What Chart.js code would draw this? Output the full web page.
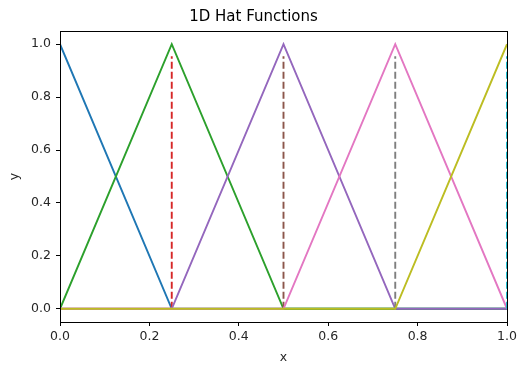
<!DOCTYPE html>
<html>
<head>
<meta charset="utf-8">
<script src="https://cdn.jsdelivr.net/npm/chart.js@4/dist/chart.umd.min.js"></script>
<style>
  html, body { margin: 0; padding: 0; background: #fff; }
  #wrap { width: 518px; height: 365px; }
</style>
</head>
<body>
<div id="wrap"><canvas id="hatChart"></canvas></div>
<script>
// mesh nodes and the nodal values of each hat function
const nodes = [0, 0.25, 0.5, 0.75, 1.0];
const hat0 = [1, 0, 0, 0, 0];
const hat1 = [0, 1, 0, 0, 0];
const hat2 = [0, 0, 1, 0, 0];
const hat3 = [0, 0, 0, 1, 0];
const hat4 = [0, 0, 0, 0, 1];
const hats = [hat0, hat1, hat2, hat3, hat4];

// dashed markers at each node
const markerBottom = 0;
const markerTop = 0.955;

const yTicks = [0.0, 0.2, 0.4, 0.6, 0.8, 1.0];
const xTicks = [0.0, 0.2, 0.4, 0.6, 0.8, 1.0];

const hatColors = ['#1f77b4', '#2ca02c', '#9467bd', '#e377c2', '#bcbd22'];
const markerColors = ['#ff7f0e', '#d62728', '#8c564b', '#7f7f7f', '#17becf'];

const FONT = 'DejaVu Sans';
const TEXT = '#262626';
const LW = 1.9;

// build datasets in plotting order: hat i, then its marker
const datasets = [];
hats.forEach((vals, i) => {
    datasets.push({
        data: nodes.map((x, k) => ({ x, y: vals[k] })),
        borderColor: hatColors[i],
        borderWidth: LW,
        pointRadius: 0,
        tension: 0
    });
    datasets.push({
        data: [{ x: nodes[i], y: markerBottom }, { x: nodes[i], y: markerTop }],
        borderColor: markerColors[i],
        borderWidth: LW,
        borderDash: [7, 3],
        pointRadius: 0
    });
});
// later datasets go on top, like the usual plotting order
datasets.forEach((d, i) => { d.order = datasets.length - i; });

const frame = {
    id: 'frame',
    afterDatasetsDraw(chart) {
        const { ctx, chartArea: a } = chart;
        ctx.save();
        ctx.strokeStyle = '#000';
        ctx.lineWidth = 1;
        ctx.strokeRect(Math.round(a.left) + 0.5, Math.round(a.top) + 0.5,
            Math.round(a.right - a.left), Math.round(a.bottom - a.top));
        ctx.restore();
    }
};

new Chart(document.getElementById('hatChart'), {
    type: 'line',
    data: { datasets },
    plugins: [frame],
    options: {
        responsive: true,
        maintainAspectRatio: false,
        animation: false,
        layout: { padding: { left: 0, right: 11, top: 0, bottom: 0 } },
        plugins: {
            legend: { display: false },
            tooltip: { enabled: false },
            title: {
                display: true,
                text: '1D Hat Functions',
                color: '#000',
                font: { family: FONT, size: 15, weight: 'normal' },
                padding: { top: 8, bottom: 5 }
            }
        },
        scales: {
            x: {
                type: 'linear',
                min: 0,
                max: 1,
                afterBuildTicks: s => { s.ticks = xTicks.map(v => ({ value: v })); },
                afterFit: s => { s.height = 43; s.paddingLeft = 0; s.paddingRight = 0; },
                border: { display: false },
                grid: { drawOnChartArea: false, tickLength: 4, tickColor: '#000' },
                ticks: {
                    color: TEXT, padding: 3,
                    font: { family: FONT, size: 12.5 },
                    maxRotation: 0,
                    callback: v => v.toFixed(1)
                },
                title: {
                    display: true, text: 'x', color: TEXT,
                    font: { family: FONT, size: 12.5 },
                    padding: { top: 2, bottom: 0 }
                }
            },
            y: {
                type: 'linear',
                min: -0.05,
                max: 1.05,
                afterBuildTicks: s => { s.ticks = yTicks.map(v => ({ value: v })); },
                afterFit: s => { s.width = 60; },
                border: { display: false },
                grid: { drawOnChartArea: false, tickLength: 4, tickColor: '#000' },
                ticks: {
                    color: TEXT, padding: 5,
                    font: { family: FONT, size: 12.5 },
                    callback: v => v.toFixed(1)
                },
                title: {
                    display: true, text: 'y', color: TEXT,
                    font: { family: FONT, size: 12.5 },
                    padding: { top: 7.5, bottom: 0 }
                }
            }
        }
    }
});
</script>
</body>
</html>
